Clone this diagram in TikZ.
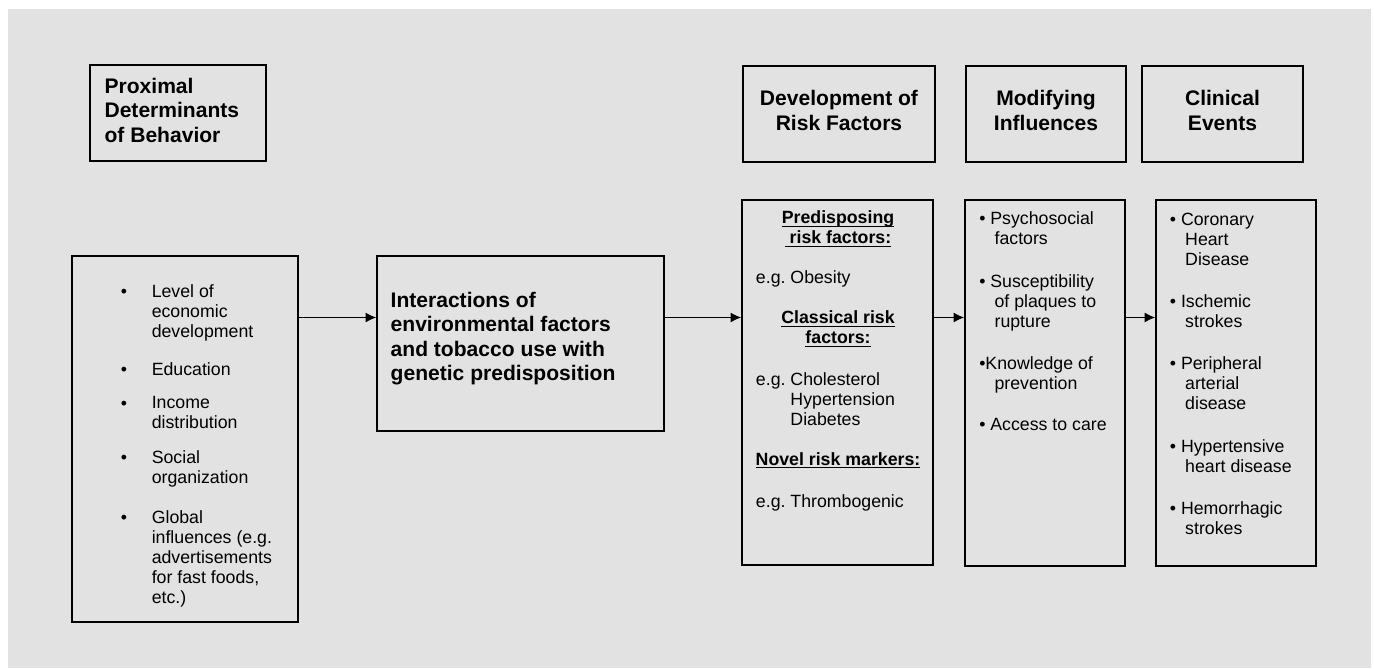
\documentclass[tikz,border=0pt]{standalone}
\usepackage{fontspec}
\setmainfont{Liberation Sans}
\usetikzlibrary{arrows.meta}
\definecolor{panelgray}{HTML}{E2E2E2}
\newcommand\subind{\hspace*{11.5pt}}
\newcommand\undl[1]{\setbox0\hbox{#1}\rlap{\rule[-2pt]{\wd0}{0.7pt}}\box0}

\begin{document}
\frenchspacing
\begin{tikzpicture}[x=0.75pt, y=-0.75pt,
  box/.style={draw, line width=1.2pt, inner sep=0pt},
  headbox/.style={box, align=center, text depth=5.5pt, font=\fontsize{15.8}{18.4}\selectfont\bfseries},
  txt/.style={inner sep=0pt, anchor=north west, align=left, font=\fontsize{13.3}{15}\selectfont},
  headtxt/.style={txt, font=\fontsize{15.8}{18.4}\selectfont\bfseries},
  ctxt/.style={txt, anchor=north, align=center, font=\fontsize{13.3}{15}\selectfont\bfseries},
  dot/.style={inner sep=0pt, anchor=base, font=\fontsize{13.3}{15}\selectfont},
  arr/.style={-{Latex[length=8pt,width=7.5pt]}, line width=1pt}]
\useasboundingbox (0,0) rectangle (1374,668);
\fill[panelgray] (8,9) rectangle (1371,668);

\node[box, minimum width=132pt, minimum height=72pt] (prox) at (178,113) {};
\node[headtxt] (proxtxt) at (104.3,77.5) {Proximal\\Determinants\\of Behavior};
\node[headbox, minimum width=144pt, minimum height=72pt] (devh) at (839,114) {Development of\\Risk Factors};
\node[headbox, minimum width=120pt, minimum height=72pt] (modh) at (1046,114) {Modifying\\Influences};
\node[headbox, minimum width=120.75pt, minimum height=72pt] (clinh) at (1222.5,114) {Clinical\\Events};

\node[box, minimum width=169.5pt, minimum height=274.5pt] (det) at (185,439) {};
\node[box, minimum width=215.25pt, minimum height=131.25pt] (inter) at (520.5,343.5) {};
\node[box, minimum width=143.25pt, minimum height=273.75pt] (risk) at (837.5,382.5) {};
\node[box, minimum width=120pt, minimum height=274.5pt] (modif) at (1045,383) {};
\node[box, minimum width=120pt, minimum height=274.5pt] (clin) at (1236,383) {};

\foreach \yy/\txt [count=\i] in {284/{Level of\\economic\\development}, 362/{Education}, 396/{Income\\distribution}, 450/{Social\\organization}, 510/{Global\\influences (e.g.\\advertisements\\for fast foods,\\etc.)}}{
  \node[txt] (det\i) at (151.5,\yy) {\txt};
  \node[dot] (detdot\i) at (124,\yy+13) {\textbullet};
}

\node[headtxt] (intertxt) at (390.4,291.7) {Interactions of\\environmental factors\\and tobacco use with\\genetic predisposition};

\node[ctxt] (pred) at (838,210.8) {\undl{Predisposing}\\\undl{\ risk factors:}};
\node[txt] (obes) at (755.7,270.8) {e.g. Obesity};
\node[ctxt] (class) at (838,310.8) {\undl{Classical risk}\\\undl{factors:}};
\node[txt] (chol) at (755.7,372.5) {e.g. Cholesterol\\\hphantom{e.g. }Hypertension\\\hphantom{e.g. }Diabetes};
\node[ctxt] (novel) at (838,452.5) {\undl{Novel risk markers:}};
\node[txt] (thromb) at (755.7,494.2) {e.g. Thrombogenic};

\foreach \yy/\txt [count=\i] in {211.8/{\textbullet\ Psychosocial\\\subind factors}, 274.2/{\textbullet\ Susceptibility\\\subind of plaques to\\\subind rupture}, 356.5/{\textbullet Knowledge of\\\subind prevention}, 418.2/{\textbullet\ Access to care}}
  \node[txt] (mod\i) at (979,\yy) {\txt};

\foreach \yy/\txt [count=\i] in {212.5/{\textbullet\ Coronary\\\subind Heart\\\subind Disease}, 294.8/{\textbullet\ Ischemic\\\subind strokes}, 356.5/{\textbullet\ Peripheral\\\subind arterial\\\subind disease}, 439.2/{\textbullet\ Hypertensive\\\subind heart disease}, 501.8/{\textbullet\ Hemorrhagic\\\subind strokes}}
  \node[txt] (ev\i) at (1169.6,\yy) {\txt};

\coordinate (ay) at (0,317.5);
\draw[arr] (det.east |- ay) -- (inter.west |- ay);
\draw[arr] (inter.east |- ay) -- (risk.west |- ay);
\draw[arr] (risk.east |- ay) -- (modif.west |- ay);
\draw[arr] (modif.east |- ay) -- (clin.west |- ay);
\end{tikzpicture}
\end{document}
